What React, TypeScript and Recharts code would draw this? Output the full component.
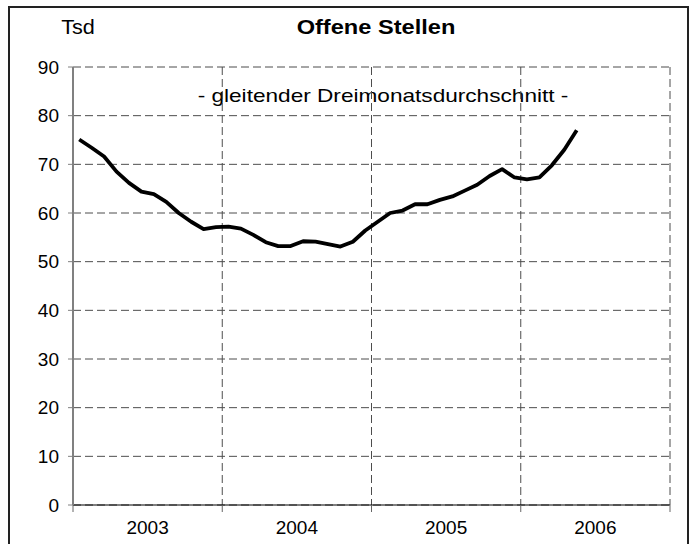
import React from 'react';
import { LineChart, Line, CartesianGrid, XAxis, YAxis } from 'recharts';

// Offene Stellen, gleitender Dreimonatsdurchschnitt, Tsd (Jan 2003 .. Mai 2006)
const years = ['2003', '2004', '2005', '2006'];
const yTicks = [0, 10, 20, 30, 40, 50, 60, 70, 80, 90];
const values = [
  75.1, 73.4, 71.6, 68.5, 66.2, 64.4, 63.9, 62.3, 60.0, 58.2, 56.7, 57.1,
  57.2, 56.8, 55.5, 54.0, 53.2, 53.2, 54.2, 54.1, 53.6, 53.1, 54.1, 56.4,
  58.2, 60.0, 60.5, 61.8, 61.8, 62.7, 63.4, 64.6, 65.8, 67.6, 69.0, 67.3,
  66.9, 67.3, 69.8, 73.0, 77.0,
];

const MONTHS = 12;
const data = values.map((v, i) => ({ m: i + 0.5, v }));
const boundaryTicks = years.map((_, i) => i * MONTHS).concat(years.length * MONTHS);
const midTicks = years.map((_, i) => i * MONTHS + MONTHS / 2);

const font = '"Liberation Sans", Arial, sans-serif';

// the original is a bit wider than plain Arial, so text is stretched a little
function Stretched({ cx, top, size, bold, sx, children }: any) {
  return (
    <div
      style={{
        position: 'absolute',
        left: cx - 300,
        width: 600,
        top,
        textAlign: 'center',
        fontSize: size,
        fontWeight: bold ? 'bold' : 'normal',
        transform: `scaleX(${sx})`,
        transformOrigin: 'center',
        whiteSpace: 'nowrap',
      }}
    >
      {children}
    </div>
  );
}

export default function App() {
  return (
    <div
      style={{
        position: 'absolute',
        left: 0,
        top: 0,
        width: 694,
        height: 544,
        overflow: 'hidden',
        background: '#fff',
        fontFamily: font,
      }}
    >
      {/* outer frame, bottom edge runs off the page */}
      <div
        style={{
          position: 'absolute',
          left: 8,
          top: 6,
          width: 681,
          height: 600,
          border: '2px solid #222',
          boxSizing: 'border-box',
        }}
      />
      <Stretched cx={78} top={16} size={20} sx={1.08}>Tsd</Stretched>
      <Stretched cx={376} top={16} size={20} bold sx={1.18}>Offene Stellen</Stretched>
      <Stretched cx={383} top={85} size={19} sx={1.19}>
        - gleitender Dreimonatsdurchschnitt -
      </Stretched>
      <div style={{ position: 'absolute', left: 0, top: 0 }}>
        <LineChart
          width={694}
          height={544}
          data={data}
          margin={{ top: 67, right: 24, left: 13, bottom: 0 }}
        >
          <CartesianGrid stroke="#4d4d4d" strokeDasharray="8 4" />
          <XAxis
            dataKey="m"
            type="number"
            domain={[0, years.length * MONTHS]}
            ticks={boundaryTicks}
            height={8}
            tick={() => <g />}
            tickSize={7}
            axisLine={{ stroke: '#000', strokeWidth: 1 }}
            tickLine={{ stroke: '#666' }}
          />
          <XAxis
            xAxisId="yr"
            dataKey="m"
            type="number"
            domain={[0, years.length * MONTHS]}
            ticks={midTicks}
            height={31}
            axisLine={false}
            tickLine={false}
            tickFormatter={(v: number) => years[Math.floor(v / MONTHS)]}
            tick={{ fill: '#000', fontSize: 19, fontFamily: font }}
          />
          <YAxis
            type="number"
            domain={[0, 90]}
            ticks={yTicks}
            width={60}
            tickSize={5}
            tickMargin={9}
            axisLine={{ stroke: '#808080', strokeWidth: 2 }}
            tickLine={{ stroke: '#808080' }}
            tick={{ fill: '#000', fontSize: 19, fontFamily: font }}
          />
          <Line
            type="linear"
            dataKey="v"
            stroke="#000"
            strokeWidth={3.8}
            strokeLinejoin="round"
            dot={false}
            activeDot={false}
            isAnimationActive={false}
          />
        </LineChart>
      </div>
    </div>
  );
}
